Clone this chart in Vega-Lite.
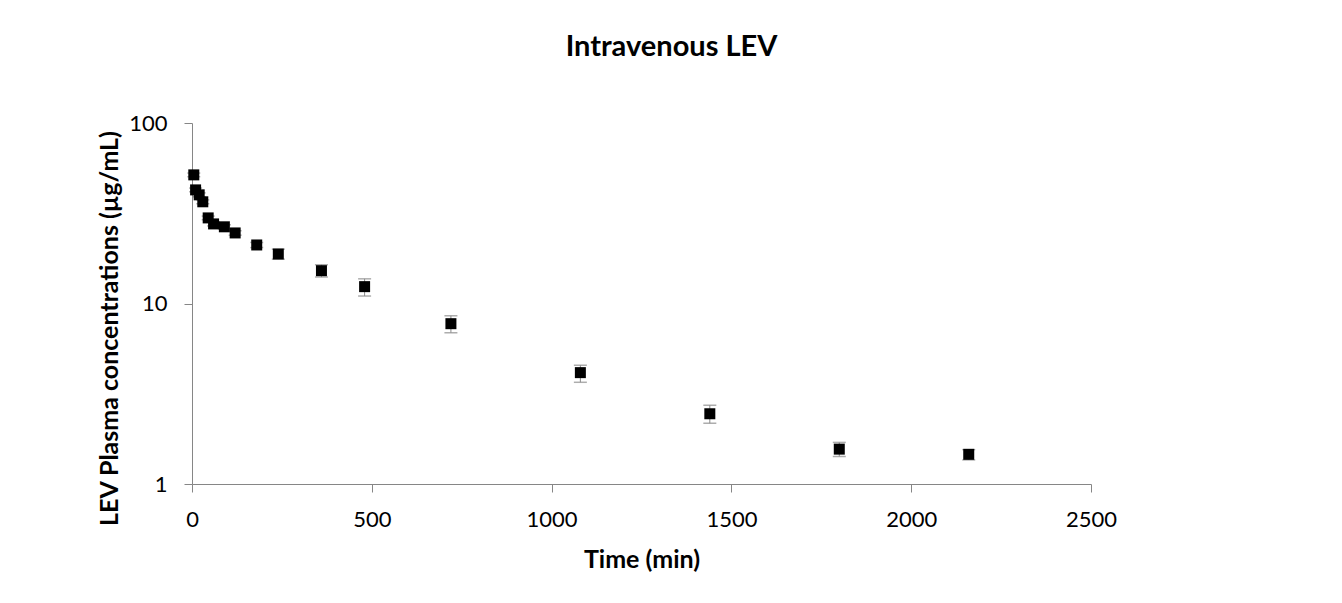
{
  "$schema": "https://vega.github.io/schema/vega-lite/v6.json",
  "autosize": {"type": "none"},
  "width": 899,
  "height": 361,
  "padding": {"left": 192, "top": 123, "right": 251, "bottom": 119},
  "background": "white",
  "title": {
    "text": "Intravenous LEV",
    "font": "Lato",
    "fontSize": 29,
    "fontWeight": "bold",
    "color": "black",
    "anchor": "middle",
    "dx": 30,
    "offset": 50
  },
  "config": {
    "view": {"stroke": null},
    "font": "Lato"
  },
  "data": {
    "values": [
      {"time": 5, "conc": 51.6, "lo": 50.4, "hi": 52.8},
      {"time": 10, "conc": 42.6, "lo": 41.6, "hi": 43.6},
      {"time": 20, "conc": 40.0, "lo": 39.0, "hi": 41.0},
      {"time": 30, "conc": 36.6, "lo": 35.7, "hi": 37.5},
      {"time": 45, "conc": 29.8, "lo": 29.1, "hi": 30.5},
      {"time": 60, "conc": 27.6, "lo": 26.9, "hi": 28.3},
      {"time": 90, "conc": 26.6, "lo": 25.9, "hi": 27.3},
      {"time": 120, "conc": 24.6, "lo": 23.9, "hi": 25.3},
      {"time": 180, "conc": 21.1, "lo": 20.4, "hi": 21.8},
      {"time": 240, "conc": 18.8, "lo": 17.6, "hi": 20.0},
      {"time": 360, "conc": 15.2, "lo": 14.0, "hi": 16.4},
      {"time": 480, "conc": 12.4, "lo": 11.0, "hi": 13.7},
      {"time": 720, "conc": 7.73, "lo": 6.89, "hi": 8.55},
      {"time": 1080, "conc": 4.14, "lo": 3.66, "hi": 4.55},
      {"time": 1440, "conc": 2.45, "lo": 2.17, "hi": 2.73},
      {"time": 1800, "conc": 1.56, "lo": 1.42, "hi": 1.70},
      {"time": 2160, "conc": 1.46, "lo": 1.36, "hi": 1.55}
    ]
  },
  "layer": [
    {
      "mark": {"type": "rule", "color": "#8a8a8a", "strokeWidth": 1},
      "encoding": {
        "x": {"field": "time", "type": "quantitative"},
        "y": {"field": "lo", "type": "quantitative"},
        "y2": {"field": "hi"}
      }
    },
    {
      "mark": {"type": "tick", "orient": "horizontal", "color": "#8a8a8a", "size": 13, "thickness": 1.5},
      "encoding": {
        "x": {"field": "time", "type": "quantitative"},
        "y": {"field": "lo", "type": "quantitative"}
      }
    },
    {
      "mark": {"type": "tick", "orient": "horizontal", "color": "#8a8a8a", "size": 13, "thickness": 1.5},
      "encoding": {
        "x": {"field": "time", "type": "quantitative"},
        "y": {"field": "hi", "type": "quantitative"}
      }
    },
    {
      "mark": {"type": "point", "shape": "square", "filled": true, "color": "black", "size": 121, "opacity": 1},
      "encoding": {
        "x": {
          "field": "time",
          "type": "quantitative",
          "scale": {"domain": [0, 2500], "nice": false, "zero": false},
          "axis": {
            "title": "Time (min)",
            "values": [0, 500, 1000, 1500, 2000, 2500],
            "format": "d",
            "grid": false,
            "domainColor": "#868686",
            "tickColor": "#868686",
            "tickSize": 8,
            "labelFont": "Lato",
            "labelFontSize": 22,
            "labelColor": "black",
            "labelPadding": 17,
            "labelFlush": false,
            "labelOverlap": false,
            "titleFont": "Lato",
            "titleFontSize": 25,
            "titleFontWeight": "bold",
            "titleColor": "black",
            "titlePadding": 17
          }
        },
        "y": {
          "field": "conc",
          "type": "quantitative",
          "scale": {"type": "log", "domain": [1, 100], "nice": false},
          "axis": {
            "title": "LEV Plasma concentrations (µg/mL)",
            "values": [1, 10, 100],
            "format": "d",
            "grid": false,
            "domainColor": "#868686",
            "tickColor": "#868686",
            "tickSize": 8,
            "labelFont": "Lato",
            "labelFontSize": 22,
            "labelColor": "black",
            "labelPadding": 17,
            "labelFlush": false,
            "labelOverlap": false,
            "titleFont": "Lato",
            "titleFontSize": 25,
            "titleFontWeight": "bold",
            "titleColor": "black",
            "titlePadding": 6,
            "titleY": 205
          }
        }
      }
    }
  ]
}
